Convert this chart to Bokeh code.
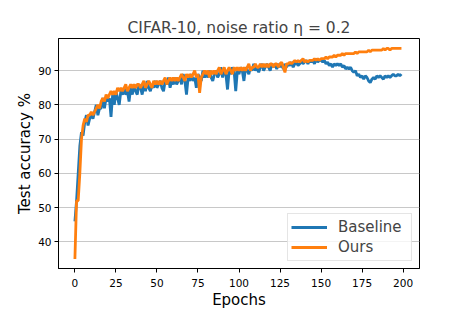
from bokeh.plotting import figure
from bokeh.models import Range1d, FixedTicker, Legend, LegendItem
from bokeh.embed import file_html
from bokeh.resources import INLINE

epochs = list(range(200))

baseline = [
    46, 52, 60, 68, 72, 71, 75, 77, 74, 76,
    77, 76, 78, 80, 77, 79, 79, 82, 79, 82,
    81, 82, 76.5, 83, 80, 84, 82, 80, 84, 83,
    85, 83, 84, 81, 85, 83, 86, 84, 83, 86,
    85, 83, 86, 84, 87, 85, 84, 86, 85, 87,
    85, 86, 87, 85, 84, 87, 86, 88, 85, 87,
    86, 88, 86, 87, 88, 86, 89, 87, 83, 88,
    87, 89, 87, 88, 85, 89, 88, 87, 90, 88,
    89, 88, 90, 88, 87, 89, 90, 88, 89, 91,
    88, 90, 89, 84.5, 90, 89, 91, 90, 84, 90,
    89, 91, 90, 87, 91, 90, 89, 91, 90, 92,
    90, 91, 89.5, 91, 92, 90, 91, 92, 91, 90,
    92, 91, 92, 90.5, 92, 91, 92, 90.5, 92, 91,
    92, 91.5, 92.5, 91, 92, 92.5, 91.5, 92, 93, 92,
    92.5, 93, 92, 93, 92.5, 93, 92, 93.5, 92.5, 93,
    93, 92.5, 93, 92, 92.5, 91.5, 92, 91, 92, 91.5,
    92, 91.5, 92, 91, 91.5, 90.5, 91, 90.5, 91, 90,
    89.5, 90, 88.5, 89, 88, 88.5, 87.5, 88.5, 88, 87,
    86.5, 87.5, 88, 87.5, 88.5, 88, 88.5, 88, 87.5, 88.5,
    88, 88.5, 88, 88.5, 89, 88.5, 88.5, 89, 88.5, 89,
]

ours = [
    35, 52, 52, 60, 70, 74, 76, 75, 77, 77,
    78, 77, 78, 79, 80, 79, 81, 82, 81, 83,
    82, 83, 84, 83, 84, 83, 85, 84, 85, 84,
    85, 86, 84, 85, 86, 85, 86, 85, 86, 86,
    85, 86, 87, 85, 86, 87, 86, 85, 87, 86,
    87, 86, 87, 86, 87, 88, 86, 87, 88, 87,
    88, 87, 88, 87, 88, 89, 88, 87, 89, 88,
    89, 88, 89, 90, 88, 89, 83.5, 88, 89, 90,
    89, 90, 88, 90, 89, 90, 89, 90, 91, 89,
    90, 91, 89, 90, 91, 90, 89, 91, 90, 91,
    90, 91, 90, 91, 90, 91, 92, 90, 91, 91,
    92, 91, 91, 92, 91, 92, 91, 92, 91, 92,
    92, 91, 92, 92, 91, 92, 92.5, 91, 89.5, 92,
    92, 92.5, 92, 92.5, 93, 92.5, 93, 92.5, 93, 93.5,
    92.5, 93, 92.5, 93, 93, 93, 93.5, 93, 93.5, 93,
    93.5, 93.5, 93.5, 94, 93.5, 94, 94, 94, 94.5, 94,
    94.5, 94.5, 94.5, 95, 94.5, 95, 95, 95, 95, 95,
    95, 95.5, 95, 95.5, 95.5, 95.5, 95.5, 95.5, 95.5, 96,
    95.5, 96, 96, 96, 96, 96, 96, 96, 96.5, 96,
    96.5, 96.5, 96, 96.5, 96.5, 96.5, 96.5, 96.5, 96.5, 96.5,
]

x_ticks = [0, 25, 50, 75, 100, 125, 150, 175, 200]
y_ticks = [40, 50, 60, 70, 80, 90]

FONT = "DejaVu Sans"

p = figure(width=466, height=311, output_backend="svg", toolbar_location=None,
           x_range=Range1d(-10, 210), y_range=Range1d(32.2, 99.4),
           min_border_left=58, min_border_right=47, min_border_top=38,
           min_border_bottom=40)

p.title.text = "CIFAR-10, noise ratio η = 0.2"
p.title.align = "center"
p.title.text_font = FONT
p.title.text_font_size = "15.5px"
p.title.text_font_style = "normal"
p.title.standoff = 3

p.outline_line_color = "black"
p.outline_line_width = 1
p.outline_line_alpha = 1

p.xgrid.visible = False
p.ygrid.grid_line_color = "#c8c8c8"
p.ygrid.grid_line_width = 1.2

for ax in (p.xaxis[0], p.yaxis[0]):
    ax.axis_line_color = "black"
    ax.major_tick_in = 0
    ax.major_tick_out = 4
    ax.minor_tick_line_color = None
    ax.major_label_text_font = FONT
    ax.major_label_text_font_size = "10.5px"
    ax.major_label_text_color = "black"
    ax.axis_label_text_font = FONT
    ax.axis_label_text_font_size = "15px"
    ax.axis_label_text_font_style = "normal"
    ax.axis_label_text_color = "black"

p.xaxis[0].ticker = FixedTicker(ticks=x_ticks)
p.yaxis[0].ticker = FixedTicker(ticks=y_ticks)
p.xaxis[0].axis_label = "Epochs"
p.yaxis[0].axis_label = "Test accuracy %"
p.xaxis[0].major_label_standoff = 6
p.yaxis[0].major_label_standoff = 3
p.xaxis[0].axis_label_standoff = 1
p.yaxis[0].axis_label_standoff = 1

r1 = p.line(epochs, baseline, line_color="#1f77b4", line_width=2.8)
r2 = p.line(epochs, ours, line_color="#ff7f0e", line_width=2.8)

legend = Legend(items=[LegendItem(label="Baseline", renderers=[r1]),
                       LegendItem(label="Ours", renderers=[r2])],
                location="bottom_right")
legend.label_text_font = FONT
legend.label_text_font_size = "15px"
legend.border_line_color = "#cccccc"
legend.border_line_width = 1
legend.background_fill_alpha = 0.8
legend.margin = 7
legend.padding = 3
legend.spacing = 0
legend.glyph_width = 36
legend.glyph_height = 20
legend.label_standoff = 11
legend.label_height = 20
legend.label_width = 70
p.add_layout(legend)

open("out.html", "w").write(file_html(p, INLINE))
